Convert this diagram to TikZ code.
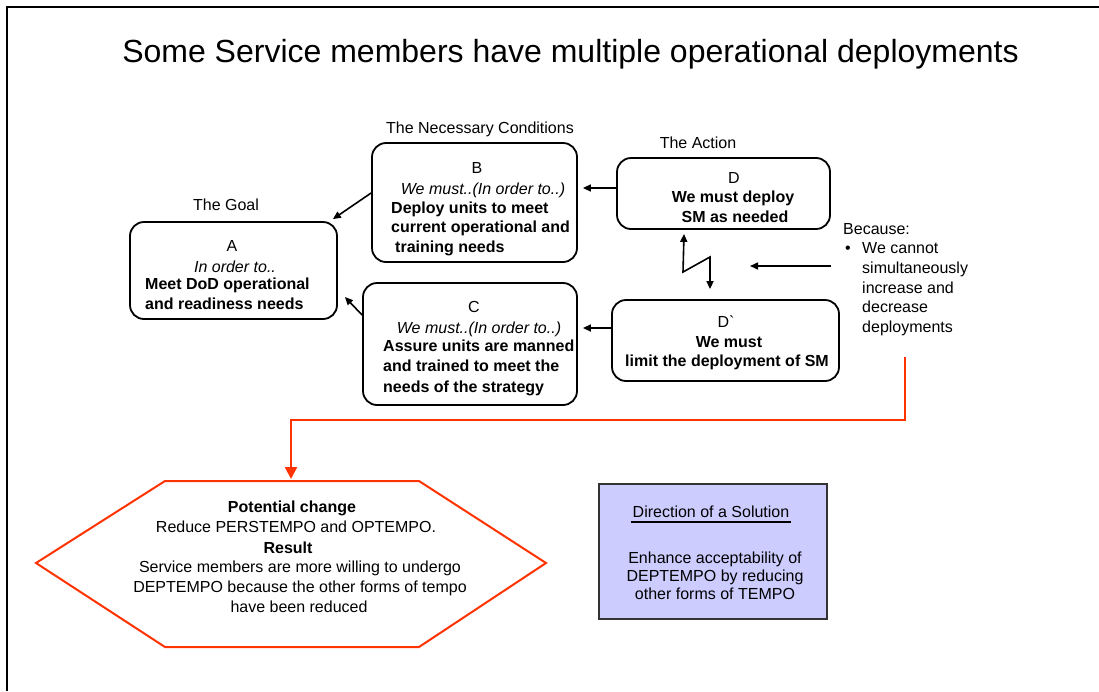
\documentclass[tikz,border=0pt]{standalone}
\usepackage{fontspec}
\setmainfont{Liberation Sans}[Ligatures=TeXOff]
\usetikzlibrary{arrows.meta,calc}
\definecolor{orng}{RGB}{255,51,0}
\definecolor{lav}{RGB}{204,204,255}
\definecolor{solborder}{RGB}{51,51,51}
\begin{document}
\begin{tikzpicture}[x=1pt,y=-1pt,
  txt/.style={inner sep=0pt, font=\fontsize{16}{20}\selectfont, text height=11.5pt, text depth=0pt},
  bt/.style={txt, font=\fontsize{16}{20}\selectfont\bfseries},
  itx/.style={txt, font=\fontsize{16}{20}\selectfont\itshape},
  box/.style={draw, line width=1.8pt, rounded corners=14pt, inner sep=0pt},
  arr/.style={line width=1.6pt, -{Triangle[length=8pt,width=7pt]}},
  darr/.style={line width=1.6pt, {Triangle[length=8pt,width=7pt]}-{Triangle[length=8pt,width=7pt]}},
  oarr/.style={draw=orng, line width=2.4pt, -{Triangle[length=12pt,width=12pt]}, color=orng},
  hexline/.style={draw=orng, line width=2pt, line join=miter},
  solbox/.style={draw=solborder, fill=lav, line width=1.5pt, inner sep=0pt}
]
\useasboundingbox (0,0) rectangle (1099,691);
\fill[white] (0,0) rectangle (1099,691);
% frame
\draw[line width=2.6pt] (7,691) -- (7,7) -- (1099,7);

% title
\node[inner sep=0pt, font=\fontsize{32}{38}\selectfont, text height=23pt, text depth=0pt] (title) at (570.5,51) {Some Service members have multiple operational deployments};

% headings
\node[txt] (tgoal) at (226,205) {The Goal};
\node[txt] (tnec) at (480,128) {The Necessary Conditions};
\node[txt] (tact) at (698,143) {The Action};

% Box A
\node[box, minimum width=207pt, minimum height=97pt] (A) at (233.5,270.5) {};
\node[txt] (Al) at (232,246) {A};
\node[itx] (Ai) at (235,267) {In order to..};
\node[bt, anchor=west] (Ab1) at (145,284) {Meet DoD operational};
\node[bt, anchor=west] (Ab2) at (145,304) {and readiness needs};

% Box B
\node[box, minimum width=205pt, minimum height=119pt] (B) at (474.5,202.5) {};
\node[txt] (Bl) at (477,168) {B};
\node[itx] (Bi) at (483,189) {We must..(In order to..)};
\node[bt, anchor=west] (Bb1) at (391,208) {Deploy units to meet};
\node[bt, anchor=west] (Bb2) at (391,227) {current operational and};
\node[bt, anchor=west] (Bb3) at (395,247) {training needs};

% Box C
\node[box, minimum width=214pt, minimum height=122pt] (C) at (470,344) {};
\node[txt] (Cl) at (474,307) {C};
\node[itx] (Ci) at (479,328) {We must..(In order to..)};
\node[bt, anchor=west] (Cb1) at (383,346) {Assure units are manned};
\node[bt, anchor=west] (Cb2) at (383,366) {and trained to meet the};
\node[bt, anchor=west] (Cb3) at (383,387) {needs of the strategy};

% Box D
\node[box, minimum width=213pt, minimum height=71pt] (D) at (723.5,193.5) {};
\node[txt] (Dl) at (734,178) {D};
\node[bt] (Db1) at (733,197) {We must deploy};
\node[bt] (Db2) at (735,217) {SM as needed};

% Box D'
\node[box, minimum width=227pt, minimum height=81pt] (Dp) at (725.5,340.5) {};
\node[txt] (Dpl) at (726,322) {D`};
\node[bt] (Dpb1) at (729,342) {We must};
\node[bt] (Dpb2) at (727,361) {limit the deployment of SM};

% Because
\node[txt, anchor=west] (bec) at (843,229) {Because:};
\node[txt] (bul) at (848,248) {•};
\node[txt, anchor=west] (bec1) at (862,248) {We cannot};
\node[txt, anchor=west] (bec2) at (862,268) {simultaneously};
\node[txt, anchor=west] (bec3) at (862,288) {increase and};
\node[txt, anchor=west] (bec4) at (862,307) {decrease};
\node[txt, anchor=west] (bec5) at (862,327) {deployments};

% connectors
\draw[arr] (B.west |- 0,193) -- ($(A.north east)+(-5,-2)$);
\draw[arr] (C.west |- 0,315) -- ($(A.east)+(7,26.5)$);
\draw[arr] (D.west |- 0,188) -- ($(B.east |- 0,188)+(5,0)$);
\draw[arr] (Dp.west |- 0,328) -- ($(C.east |- 0,328)+(5,0)$);
\coordinate (zt) at ($(D.south)+(-39.5,4)$);
\coordinate (zb) at ($(Dp.north)+(-15.5,-10)$);
\draw[darr, line join=miter] (zt) -- (683,272) -- (710,257) -- (zb);
\coordinate (bsrc) at (831,266);
\coordinate (btip) at (750,266);
\draw[arr] (bsrc) -- (btip);

% hexagon
\coordinate (h1) at (36,563);
\coordinate (h2) at (165,481);
\coordinate (h3) at (419,481);
\coordinate (h4) at (546,563);
\coordinate (h5) at (419,647);
\coordinate (h6) at (165,647);
\coordinate (hextop) at (291,481);
\draw[hexline] (h1) -- (h2) -- (h3) -- (h4) -- (h5) -- (h6) -- cycle;
\node[bt] (p1) at (292,507) {Potential change};
\node[txt] (p2) at (296,527) {Reduce PERSTEMPO and OPTEMPO.};
\node[bt] (p3) at (288,548) {Result};
\node[txt] (p4) at (300,567) {Service members are more willing to undergo};
\node[txt] (p5) at (300,587) {DEPTEMPO because the other forms of tempo};
\node[txt] (p6) at (299,607) {have been reduced};

% orange connector
\coordinate (ostart) at (905,357);
\draw[oarr] (ostart) -- (ostart |- 0,420) -- (hextop |- 0,420) -- ($(hextop)+(0,-2)$);

% solution
\node[solbox, minimum width=228pt, minimum height=135pt] (sol) at (713,551.5) {};
\node[txt] (s1) at (711,512) {Direction of a Solution};
\draw[line width=1.2pt] ($(s1.south west)+(-2,4)$) -- ($(s1.south east)+(2,4)$);
\node[txt] (s2) at (715,558) {Enhance acceptability of};
\node[txt] (s3) at (715,576) {DEPTEMPO by reducing};
\node[txt] (s4) at (715,594) {other forms of TEMPO};
\end{tikzpicture}
\end{document}
